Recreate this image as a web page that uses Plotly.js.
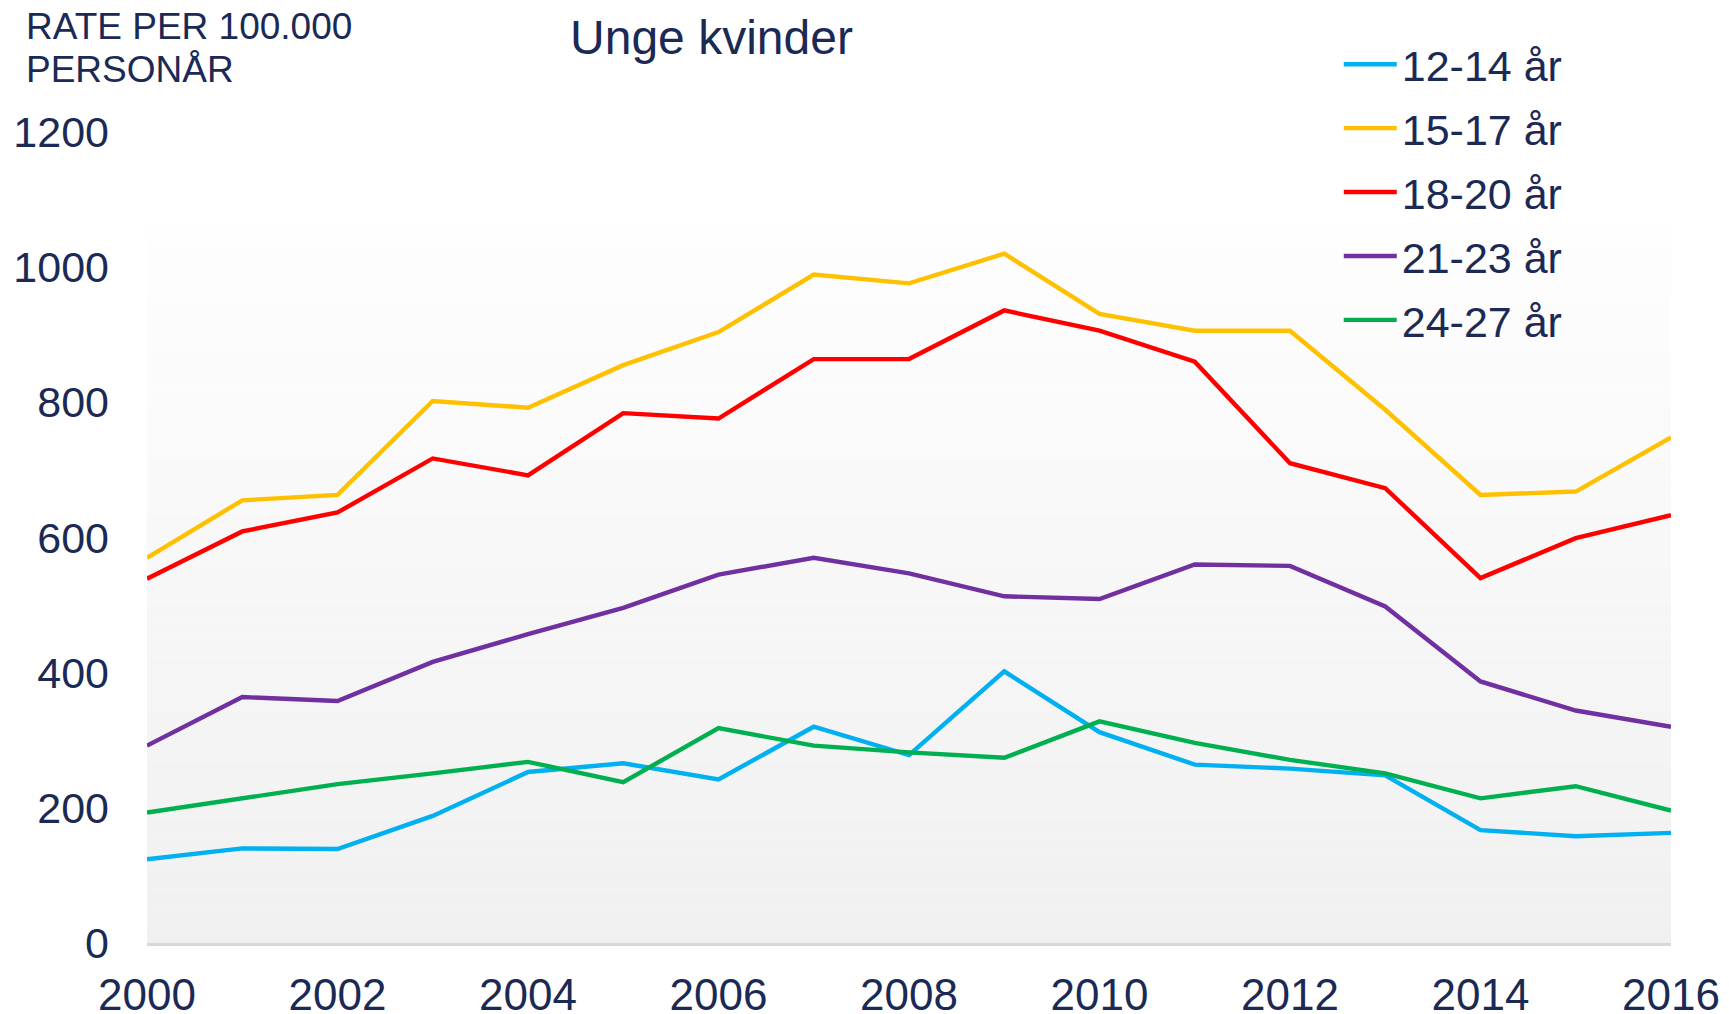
<!DOCTYPE html>
<html>
<head>
<meta charset="utf-8">
<script src="https://cdn.plot.ly/plotly-3.0.1.min.js"></script>
<style>html,body{margin:0;padding:0;background:#fff;}#chart{width:1729px;height:1014px;}</style>
</head>
<body>
<div id="chart"></div>
<script>
const years = [2000,2001,2002,2003,2004,2005,2006,2007,2008,2009,2010,2011,2012,2013,2014,2015,2016];
const seriesNames = ["12-14 år","15-17 år","18-20 år","21-23 år","24-27 år"];
const age12_14 = [124,140,139,188,253,266,242,320,278,402,312,264,258,248,167,158,163];
const age15_17 = [570,655,663,802,792,855,904,989,976,1020,931,906,906,789,663,668,748];
const age18_20 = [539,609,637,717,692,784,776,864,864,936,906,860,710,673,540,599,633];
const age21_23 = [292,364,358,416,457,496,545,570,547,513,509,560,558,498,387,344,320];
const age24_27 = [193,214,235,251,268,238,318,292,282,274,328,296,271,251,214,232,196];
const yTicks = [0,200,400,600,800,1000,1200];
const xTicks = [2000,2002,2004,2006,2008,2010,2012,2014,2016];

const colors = ["#00B0F0","#FFC000","#FF0000","#7030A0","#00B050"];
const values = [age12_14, age15_17, age18_20, age21_23, age24_27];
const navy = "#1b2a55";
const font = "Liberation Sans, Arial, Helvetica, sans-serif";

const traces = values.map((v,i)=>({
  type:"scatter", mode:"lines", x:years, y:v, name:seriesNames[i],
  legendgroup:"g"+i,
  line:{color:colors[i], width:4.4}, hoverinfo:"x+y+name"
}));

// gradient background bands (style only)
const shapes = [];
const nb = 40, topVal = 1060;
for (let k=0;k<nb;k++){
  const y0 = topVal*k/nb, y1 = topVal*(k+1)/nb;
  const t = (k+0.5)/nb; // 0 bottom -> 1 top
  const c = Math.round(240 + (254-240)*t);
  shapes.push({type:"rect", layer:"below", xref:"paper", yref:"y", x0:0, x1:1, y0:y0, y1:y1,
    fillcolor:`rgb(${c},${c},${c})`, line:{width:0}});
}

const layout = {
  width:1729, height:1014,
  margin:{l:147, r:58, t:132, b:71, pad:0},
  paper_bgcolor:"#fff", plot_bgcolor:"#fff",
  font:{family:font, color:navy, size:43},
  title:{text:"Unge kvinder", font:{family:font, size:48, color:navy},
    x:0.4115, xanchor:"center", xref:"container", y:0.980, yanchor:"top", yref:"container"},
  xaxis:{range:[2000,2016], tickvals:xTicks, ticktext:xTicks.map(String), showgrid:false, zeroline:false,
    showline:true, linecolor:"#d9d9d9", linewidth:3, ticks:"", ticklabelstandoff:11,
    tickfont:{family:font, size:44, color:navy}},
  yaxis:{range:[0,1200], tickvals:yTicks, showgrid:false, zeroline:false, showline:false,
    ticks:"", ticklabelstandoff:37, tickfont:{family:font, size:43, color:navy}},
  showlegend:true,
  legend:{x:0.782, xanchor:"left", y:1.126, yanchor:"top", bgcolor:"rgba(0,0,0,0)",
    font:{family:font, size:43, color:navy}, tracegroupgap:5, traceorder:"grouped", itemwidth:53},
  shapes:shapes,
  annotations:[
    {xref:"paper", yref:"paper", x:-0.0807, y:1.158, xanchor:"left", yanchor:"top",
     align:"left", showarrow:false, text:"RATE PER 100.000", font:{family:font, size:37, color:navy}},
    {xref:"paper", yref:"paper", x:-0.0807, y:1.105, xanchor:"left", yanchor:"top",
     align:"left", showarrow:false, text:"PERSONÅR", font:{family:font, size:37, color:navy}}
  ]
};

Plotly.newPlot("chart", traces, layout, {displayModeBar:false, responsive:false});
</script>
</body>
</html>
